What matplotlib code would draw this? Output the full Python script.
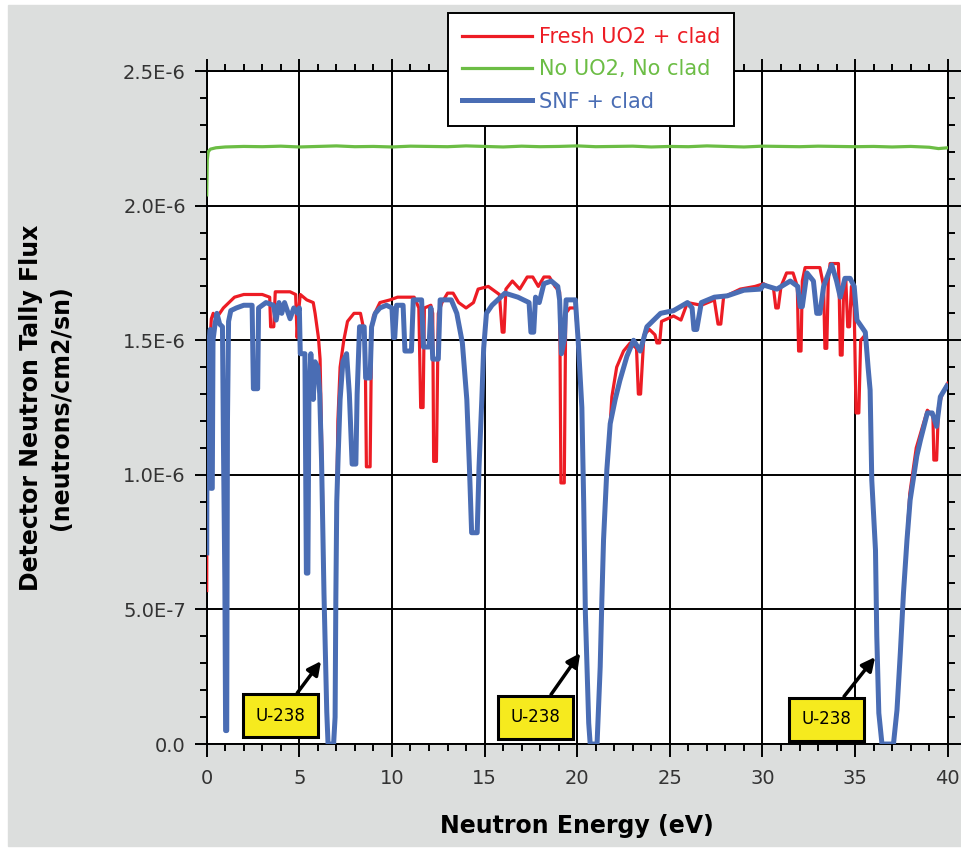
"""Detector neutron tally flux versus neutron energy for three configurations."""

from matplotlib import pyplot
from matplotlib.patches import Rectangle
from matplotlib.ticker import MultipleLocator
import numpy


# Fresh UO2 + clad (energy in eV, flux in 1E-6 neutrons/cm2/sn).
energy_fresh = [
    0.0, 0.02, 0.05, 0.1, 0.18, 0.25, 0.35, 0.5, 0.7, 0.9, 1.2, 1.5, 2.0,
    2.6, 3.0, 3.4, 3.45, 3.55, 3.62, 3.7, 4.0, 4.5, 4.8, 4.88, 4.95, 5.05,
    5.4, 5.75, 5.85, 6.03, 6.12, 6.22, 6.33, 6.48, 6.55, 6.85, 6.93, 6.97,
    7.02, 7.08, 7.2, 7.4, 7.6, 7.95, 8.3, 8.45, 8.55, 8.62, 8.82, 8.9, 9.0,
    9.35, 9.9, 10.3, 11.2, 11.45, 11.55, 11.68, 11.75, 12.1, 12.2, 12.25,
    12.4, 12.5, 12.7, 13.0, 13.3, 13.6, 14.0, 14.4, 14.65, 15.2, 15.8,
    15.95, 16.05, 16.15, 16.5, 16.9, 17.3, 17.6, 17.9, 18.2, 18.5, 18.8,
    19.05, 19.12, 19.3, 19.38, 19.6, 19.9, 20.05, 20.25, 20.35, 20.44,
    20.62, 20.7, 21.07, 21.24, 21.33, 21.42, 21.6, 21.78, 21.87, 22.13,
    22.5, 22.86, 23.2, 23.3, 23.42, 23.6, 23.9, 24.2, 24.3, 24.45, 24.55,
    25.2, 25.6, 25.95, 26.7, 27.4, 27.6, 27.75, 27.9, 28.8, 29.6, 30.06,
    30.6, 30.72, 30.85, 31.0, 31.3, 31.65, 31.88, 31.95, 32.08, 32.15, 32.3,
    33.1, 33.3, 33.37, 33.47, 33.55, 33.65, 34.1, 34.15, 34.2, 34.3, 34.38,
    34.5, 34.6, 34.7, 34.8, 34.95, 35.05, 35.2, 35.3, 35.55, 35.7, 35.81,
    35.9, 36.1, 36.17, 36.28, 36.45, 37.07, 37.26, 37.44, 37.61, 37.8,
    37.95, 38.3, 38.6, 38.9, 39.2, 39.25, 39.4, 39.5, 39.7, 40.0,
]
flux_fresh = [
    0.57, 1.10, 1.35, 1.45, 1.50, 1.58, 1.60, 1.58, 1.60, 1.62, 1.64, 1.66,
    1.67, 1.67, 1.67, 1.66, 1.55, 1.55, 1.55, 1.68, 1.68, 1.68, 1.67, 1.51,
    1.60, 1.67, 1.65, 1.64, 1.60, 1.51, 1.43, 1.07, 0.56, 0.12, 0.0, 0.0,
    0.10, 0.54, 0.90, 1.20, 1.40, 1.50, 1.57, 1.60, 1.60, 1.55, 1.50, 1.03,
    1.03, 1.52, 1.59, 1.64, 1.65, 1.66, 1.66, 1.62, 1.25, 1.25, 1.62, 1.63,
    1.60, 1.05, 1.05, 1.60, 1.64, 1.675, 1.675, 1.64, 1.62, 1.64, 1.69,
    1.70, 1.67, 1.53, 1.53, 1.69, 1.72, 1.69, 1.735, 1.735, 1.70, 1.735,
    1.735, 1.70, 1.68, 0.97, 0.97, 1.60, 1.62, 1.62, 1.50, 1.25, 0.895,
    0.486, 0.078, 0.0, 0.0, 0.287, 0.535, 0.758, 1.02, 1.19, 1.29, 1.40,
    1.46, 1.49, 1.47, 1.30, 1.30, 1.52, 1.54, 1.52, 1.49, 1.49, 1.57, 1.59,
    1.575, 1.64, 1.63, 1.65, 1.56, 1.56, 1.66, 1.69, 1.70, 1.71, 1.69,
    1.62, 1.62, 1.70, 1.75, 1.75, 1.70, 1.46, 1.46, 1.72, 1.77, 1.77, 1.70,
    1.47, 1.47, 1.72, 1.785, 1.785, 1.65, 1.445, 1.445, 1.70, 1.72, 1.55,
    1.55, 1.70, 1.62, 1.23, 1.23, 1.50, 1.52, 1.40, 1.315, 0.98, 0.72,
    0.40, 0.115, 0.0, 0.0, 0.126, 0.338, 0.56, 0.76, 0.93, 1.10, 1.17, 1.24,
    1.22, 1.055, 1.055, 1.25, 1.30, 1.34,
]

# No UO2, No clad.
energy_empty = [
    0.0, 0.03, 0.08, 0.2, 0.5, 1.0, 2.0, 3.0, 4.0, 5.0, 6.0, 7.0, 8.0, 9.0,
    10.0, 11.0, 12.0, 13.0, 14.0, 15.0, 16.0, 17.0, 18.0, 19.0, 20.0, 21.0,
    22.0, 23.0, 24.0, 25.0, 26.0, 27.0, 28.0, 29.0, 30.0, 31.0, 32.0, 33.0,
    34.0, 35.0, 36.0, 37.0, 38.0, 39.0, 39.5, 40.0,
]
flux_empty = [
    2.04, 2.17, 2.20, 2.21, 2.215, 2.218, 2.22, 2.219, 2.221, 2.218, 2.22,
    2.222, 2.219, 2.22, 2.218, 2.221, 2.22, 2.219, 2.222, 2.22, 2.218, 2.221,
    2.219, 2.22, 2.222, 2.219, 2.22, 2.221, 2.218, 2.22, 2.219, 2.222, 2.22,
    2.218, 2.221, 2.22, 2.219, 2.221, 2.22, 2.219, 2.22, 2.218, 2.22, 2.217,
    2.212, 2.215,
]

# SNF + clad.
energy_snf = [
    0.0, 0.02, 0.08, 0.15, 0.19, 0.22, 0.3, 0.34, 0.45, 0.55, 0.7, 0.85,
    0.9, 0.98, 1.02, 1.08, 1.12, 1.18, 1.3, 1.6, 2.0, 2.45, 2.52, 2.75,
    2.8, 3.2, 3.6, 3.75, 3.9, 4.05, 4.2, 4.5, 4.7, 4.9, 5.0, 5.05, 5.3,
    5.38, 5.46, 5.52, 5.62, 5.75, 5.85, 6.0, 6.1, 6.2, 6.33, 6.48, 6.55,
    6.85, 6.93, 6.97, 7.02, 7.1, 7.2, 7.35, 7.55, 7.7, 7.85, 8.05, 8.12,
    8.25, 8.5, 8.58, 8.82, 8.9, 9.1, 9.35, 9.7, 10.0, 10.08, 10.15, 10.25,
    10.6, 10.7, 11.05, 11.15, 11.6, 11.7, 12.0, 12.1, 12.2, 12.5, 12.6,
    13.2, 13.5, 13.8, 14.04, 14.18, 14.3, 14.6, 14.7, 14.85, 14.95, 15.1,
    15.4, 16.1, 16.8, 17.4, 17.5, 17.65, 17.75, 17.95, 18.2, 18.6, 18.95,
    19.05, 19.15, 19.3, 19.4, 19.9, 20.05, 20.25, 20.35, 20.44, 20.62,
    20.7, 21.07, 21.24, 21.33, 21.42, 21.6, 21.78, 22.05, 22.3, 22.68,
    23.04, 23.4, 23.76, 24.5, 25.2, 25.95, 26.2, 26.3, 26.45, 26.7, 27.4,
    28.1, 29.0, 29.9, 30.06, 30.78, 31.5, 31.9, 32.04, 32.15, 32.4, 32.75,
    32.93, 33.1, 33.3, 33.74, 34.0, 34.2, 34.45, 34.73, 34.95, 35.1, 35.55,
    35.7, 35.81, 35.9, 36.1, 36.17, 36.28, 36.45, 37.07, 37.26, 37.44,
    37.61, 37.8, 37.97, 38.33, 38.53, 38.9, 39.16, 39.4, 39.6, 39.95,
]
flux_snf = [
    0.71, 1.30, 1.40, 1.50, 1.54, 0.95, 0.95, 1.50, 1.56, 1.60, 1.56, 1.55,
    1.14, 0.60, 0.05, 0.05, 1.20, 1.57, 1.61, 1.62, 1.63, 1.63, 1.32, 1.32,
    1.62, 1.64, 1.63, 1.575, 1.64, 1.60, 1.64, 1.58, 1.62, 1.60, 1.62, 1.45,
    1.45, 0.635, 0.635, 1.30, 1.45, 1.28, 1.42, 1.40, 1.30, 1.05, 0.56,
    0.12, 0.0, 0.0, 0.10, 0.54, 0.90, 1.08, 1.28, 1.42, 1.45, 1.30, 1.04,
    1.04, 1.30, 1.55, 1.55, 1.36, 1.36, 1.55, 1.60, 1.62, 1.63, 1.62, 1.51,
    1.51, 1.63, 1.63, 1.46, 1.46, 1.65, 1.65, 1.475, 1.475, 1.62, 1.43,
    1.43, 1.65, 1.65, 1.60, 1.49, 1.28, 1.03, 0.785, 0.785, 1.03, 1.28,
    1.47, 1.60, 1.63, 1.675, 1.66, 1.64, 1.53, 1.53, 1.66, 1.64, 1.71, 1.72,
    1.70, 1.65, 1.45, 1.50, 1.65, 1.65, 1.50, 1.25, 0.895, 0.486, 0.078,
    0.0, 0.0, 0.287, 0.535, 0.758, 1.02, 1.19, 1.28, 1.35, 1.44, 1.50, 1.46,
    1.55, 1.60, 1.61, 1.64, 1.62, 1.54, 1.54, 1.64, 1.66, 1.665, 1.686,
    1.69, 1.705, 1.69, 1.72, 1.70, 1.625, 1.625, 1.75, 1.72, 1.60, 1.60,
    1.70, 1.78, 1.72, 1.66, 1.73, 1.73, 1.70, 1.575, 1.53, 1.40, 1.315,
    0.98, 0.72, 0.40, 0.115, 0.0, 0.0, 0.126, 0.338, 0.56, 0.758, 0.906,
    1.07, 1.13, 1.23, 1.23, 1.18, 1.29, 1.33,
]

# Axis ticks.
xticks = [0, 5, 10, 15, 20, 25, 30, 35, 40]
yticks = [0.0, 5.0e-7, 1.0e-6, 1.5e-6, 2.0e-6, 2.5e-6]
ytick_labels = ['0.0', '5.0E-7', '1.0E-6', '1.5E-6', '2.0E-6', '2.5E-6']

# U-238 resonance callouts: arrow tip and label position (eV, flux).
callout_tips = [(6.17, 3.08e-7), (20.16, 3.38e-7), (36.08, 3.23e-7)]
callout_boxes = [(3.98, 1.06e-7), (17.73, 1.00e-7), (33.44, 0.93e-7)]

red = '#ed1c24'
green = '#6cbd45'
blue = '#4a6db4'
background = '#dcdedd'

pyplot.rc('font', family='DejaVu Sans', size=14)
fig = pyplot.figure(figsize=(9.61, 8.48), dpi=100)
fig.patches.append(Rectangle((8 / 961, 2 / 848), 1.0, 1.0 - 7 / 848,
                             transform=fig.transFigure, color=background,
                             zorder=-10))
ax = fig.add_axes([0.2151, 0.1226, 0.7711, 0.7936])

line_fresh, = ax.plot(energy_fresh, numpy.array(flux_fresh) * 1e-6,
                      color=red, lw=2.3, zorder=3)
line_empty, = ax.plot(energy_empty, numpy.array(flux_empty) * 1e-6,
                      color=green, lw=2.3, zorder=3)
line_snf, = ax.plot(energy_snf, numpy.array(flux_snf) * 1e-6,
                    color=blue, lw=3.6, zorder=4)

ax.axis((0.0, 40.0, 0.0, 2.5e-6))
ax.set_xticks(xticks)
ax.set_yticks(yticks, ytick_labels)
ax.xaxis.set_minor_locator(MultipleLocator(1.0))
ax.yaxis.set_minor_locator(MultipleLocator(1.0e-7))
ax.tick_params(which='both', direction='out', top=True, right=True,
               width=1.4, colors='black', labelcolor='#333333',
               labelsize=14)
ax.tick_params(which='major', length=9)
ax.tick_params(which='minor', length=5)
ax.tick_params(axis='x', pad=9)
ax.tick_params(axis='y', pad=6)
ax.grid(which='major', color='black', lw=1.4, zorder=1)
ax.set_axisbelow(True)
for spine in ax.spines.values():
    spine.set_linewidth(1.4)

ax.set_xlabel('Neutron Energy (eV)', fontsize=17, fontweight='bold',
              labelpad=19)
fig.text(46 / 961, 0.519, 'Detector Neutron Tally Flux\n(neutrons/cm2/sn)',
         rotation=90, ha='center', va='center', fontsize=17,
         fontweight='bold', linespacing=1.3)

for tip, box in zip(callout_tips, callout_boxes):
    ax.annotate('U-238', xy=tip, xytext=box, ha='center', va='center',
                fontsize=12, zorder=6,
                bbox=dict(boxstyle='square,pad=0.75', fc='#f6ea1e',
                          ec='black', lw=2.2),
                arrowprops=dict(arrowstyle='-|>', color='black', lw=2.5,
                                mutation_scale=20, shrinkA=0, shrinkB=0))

leg = fig.legend([line_fresh, line_empty, line_snf],
                 ['Fresh UO2 + clad', 'No UO2, No clad', 'SNF + clad'],
                 loc='upper left', bbox_to_anchor=(448 / 961, 1 - 13 / 848),
                 borderaxespad=0.0, fontsize=15, handlelength=3.35,
                 handletextpad=0.33, labelspacing=0.59, borderpad=0.68,
                 fancybox=False, framealpha=1.0, edgecolor='black',
                 labelcolor='linecolor')
leg.get_frame().set_linewidth(1.4)

fig.savefig('out.png', dpi=100, facecolor='white')
